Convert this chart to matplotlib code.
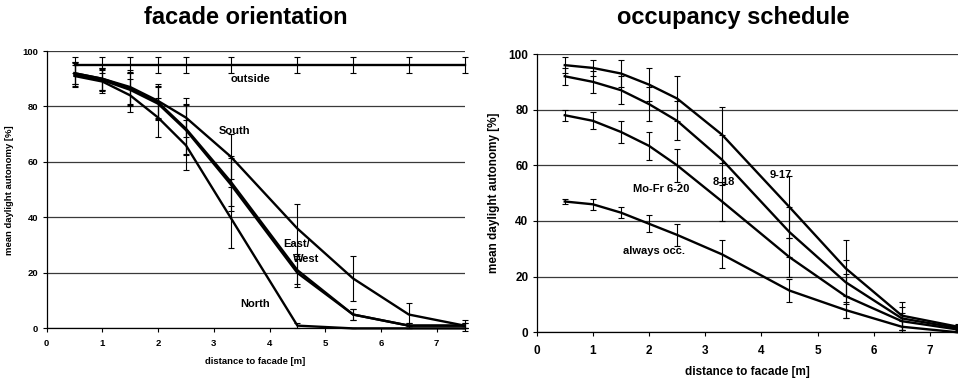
import numpy as np
import matplotlib.pyplot as plt

plt.rcParams['font.family'] = ['Liberation Sans', 'DejaVu Sans']
plt.rcParams['font.weight'] = 'bold'

# distances of the measurement points from the facade [m]
distance = [0.5, 1.0, 1.5, 2.0, 2.5, 3.3, 4.5, 5.5, 6.5, 7.5]

# facade orientation: mean daylight autonomy [%] and error bar half-widths
outside = [95, 95, 95, 95, 95, 95, 95, 95, 95, 95]
outside_err = [3, 3, 3, 3, 3, 3, 3, 3, 3, 3]
south = [92, 90, 87, 82, 76, 62, 36, 18, 5, 1]
south_err = [4, 4, 6, 6, 7, 8, 9, 8, 4, 2]
east = [92, 90, 86.5, 81.5, 72, 53, 21, 5, 1, 1]
east_err = [4, 4, 6, 6, 9, 9, 5, 2, 1, 1]
west = [91.5, 89.5, 86, 81, 71.5, 52, 20, 5, 1, 1]
west_err = [4, 4, 6, 6, 9, 9.5, 5, 2, 1, 1]
north = [91, 89, 84, 76, 66, 40, 1, 0, 0, 0]
north_err = [4, 4, 6, 7, 9, 11, 1, 0, 0, 0]

# occupancy schedule
occ_9_17 = [96, 95, 93, 89, 84, 71, 45, 23, 6, 2]
occ_9_17_err = [3, 3, 5, 6, 8, 10, 11, 10, 5, 1]
occ_8_18 = [92, 90, 87, 82, 76, 62, 36, 18, 5, 1.5]
occ_8_18_err = [3, 4, 5, 6, 7, 9, 9, 8, 4, 1]
occ_mofr = [78, 76, 72, 67, 60, 47, 27, 13, 4, 1]
occ_mofr_err = [2, 3, 4, 5, 6, 7, 7, 8, 3, 1]
occ_always = [47, 46, 43, 39, 35, 28, 15, 8, 2, 0]
occ_always_err = [1, 2, 2, 3, 4, 5, 4, 3, 2, 0]

yticks = [0, 20, 40, 60, 80, 100]
xticks = [0, 1, 2, 3, 4, 5, 6, 7]


def setup_axes(ax, fs, xpad):
    ax.set_xlim(0, 7.5)
    ax.set_ylim(0, 100)
    ax.set_xticks(xticks)
    ax.set_yticks(yticks)
    for s in ["top", "right"]:
        ax.spines[s].set_visible(False)
    for s in ["left", "bottom"]:
        ax.spines[s].set_linewidth(0.9)
    ax.yaxis.grid(True, color="#3a3a3a", linewidth=0.9)
    ax.set_axisbelow(True)
    ax.tick_params(direction="out", length=3, width=0.8, labelsize=fs, pad=3)
    ax.tick_params(axis="x", pad=xpad)
    for lbl in ax.get_xticklabels() + ax.get_yticklabels():
        lbl.set_fontweight("bold")
    ax.set_xlabel("distance to facade [m]", fontsize=fs, fontweight="bold", labelpad=7)
    ax.set_ylabel("mean daylight autonomy [%]", fontsize=fs, fontweight="bold", labelpad=6)


def curve(ax, y, err):
    ax.errorbar(distance, y, yerr=err, fmt="-", color="black", lw=1.7,
                ecolor="black", elinewidth=0.8, capsize=2.5, capthick=0.8, clip_on=False)


fig = plt.figure(figsize=(9.58, 3.79), dpi=100)

# left: facade orientation
ax1 = fig.add_axes([0.0487, 0.1335, 0.4362, 0.7319])
for y, e in [(outside, outside_err), (south, south_err), (east, east_err),
             (west, west_err), (north, north_err)]:
    curve(ax1, y, e)
setup_axes(ax1, 6.8, 4.4)
lab = dict(fontsize=8, fontweight="bold", ha="left", va="center")
ax1.text(3.3, 89.8, "outside", **lab)
ax1.text(3.08, 71.2, "South", **lab)
ax1.text(4.25, 30.3, "East/", **lab)
ax1.text(4.43, 24.9, "West", **lab)
ax1.text(3.48, 8.8, "North", **lab)
fig.text(0.257, 0.955, "facade orientation", fontsize=17, fontweight="bold",
         ha="center", va="center")

# right: occupancy schedule
ax2 = fig.add_axes([0.5602, 0.1232, 0.4398, 0.7343])
for y, e in [(occ_9_17, occ_9_17_err), (occ_8_18, occ_8_18_err),
             (occ_mofr, occ_mofr_err), (occ_always, occ_always_err)]:
    curve(ax2, y, e)
setup_axes(ax2, 8.5, 5.8)
ax2.text(4.15, 56.5, "9-17", **lab)
ax2.text(3.14, 53.9, "8-18", **lab)
ax2.text(1.71, 51.6, "Mo-Fr 6-20", **lab)
ax2.text(1.54, 29.2, "always occ.", **lab)
fig.text(0.765, 0.955, "occupancy schedule", fontsize=17, fontweight="bold",
         ha="center", va="center")

fig.savefig("out.png", dpi=100)
